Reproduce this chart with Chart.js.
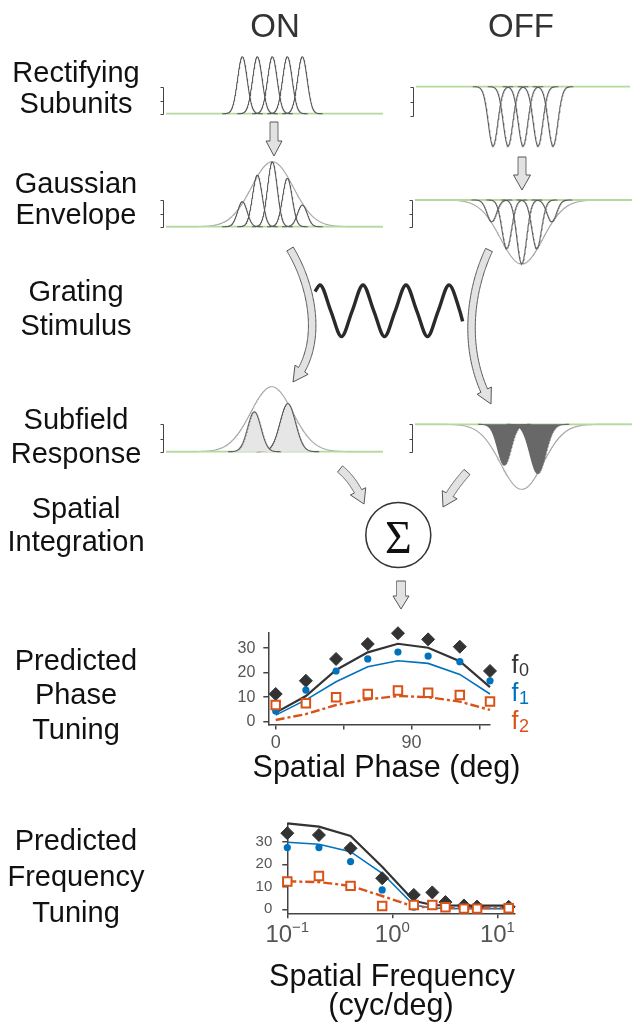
<!DOCTYPE html>
<html>
<head>
<meta charset="utf-8">
<title>Subunit model of simple-cell tuning</title>
<script src="https://cdn.jsdelivr.net/npm/chart.js@4.4.1/dist/chart.umd.min.js"></script>
<style>
  html, body { margin:0; padding:0; background:#fff; overflow:hidden; }
  #fig { position:relative; width:632px; height:1026px; }
  #fig canvas { position:absolute; }
  #overlay { position:absolute; left:0; top:0; }
</style>
</head>
<body>
<div id="fig">
  <svg id="overlay" width="632" height="1026" xmlns="http://www.w3.org/2000/svg"></svg>
</div>
<script>
// ---------- receptive-field model (x measured in subunit spacings) ----------
const subunitCenters = [-2, -1, 0, 1, 2];
const subunitWidth = 0.32;
const subunitReach = 1.35;          // half-extent over which each subunit is drawn
const subunitPeaks = [1, 1, 1, 1, 1];
const envelopeWidth = 1.4;
const onWeightedPeaks = [0.385, 0.795, 1, 0.745, 0.334];
const offWeightedPeaks = [0.34, 0.76, 1, 0.76, 0.34];
const responseCenters = [-1.16, 1.07];
const responseWidths = [0.44, 0.52];
const onResponsePeaks = [0.615, 0.74];
const offResponsePeaks = [0.626, 0.754];

// ---------- grating luminance at marked phases (deg) ----------
const gratingPhase = [-42, 0, 90, 180, 270, 360, 450, 540, 630, 720, 810, 900, 990, 1080, 1170, 1194];
const gratingLevel = [0.75, 1, 0, -1, 0, 1, 0, -1, 0, 1, 0, -1, 0, 1, 0, -0.41];

// ---------- predicted phase tuning ----------
const phaseDeg   = [0, 20, 40, 61, 81, 101, 122, 142];
const phaseF0    = [11.3, 16.7, 25.6, 31.7, 36.1, 33.6, 30.6, 20.7];
const phaseF0Fit = [3.7, 10.5, 21.1, 28.3, 31.8, 30.2, 24.7, 14.1];
const phaseF1    = [4.4, 12.9, 20.7, 25.6, 28.4, 26.8, 24.5, 16.7];
const phaseF1Fit = [2.7, 8.9, 16.3, 22.4, 24.9, 23.8, 19.3, 11.3];
const phaseF2    = [6.8, 7.5, 10.0, 11.3, 12.7, 11.8, 10.9, 8.2];
const phaseF2Fit = [0.7, 3.1, 6.8, 9.1, 10.5, 10.0, 8.2, 4.8];
const phaseTicks = [0, 45, 90, 135];
const phaseTickLabels = ['0', '', '90', ''];

// ---------- predicted frequency tuning ----------
const freqCyc    = [0.1, 0.2, 0.4, 0.8, 1.6, 2.4, 3.2, 4.8, 6.4, 12.8];
const freqF0     = [33.8, 33.0, 27.1, 13.8, 6.4, 7.5, 3.2, 1.7, 1.2, 1.1];
const freqF0Fit  = [38.2, 36.7, 32.6, 18.9, 3.8, 1.9, 1.7, 1.6, 1.6, 1.6];
const freqF1     = [27.4, 27.4, 21.2, 8.6, 0.9, 1.5, 1.2, 0.3, 0.3, 0.3];
const freqF1Fit  = [29.8, 28.9, 25.6, 16.0, 1.9, 0.6, 0.4, 0.3, 0.3, 0.3];
const freqF2     = [12.3, 14.8, 10.4, 1.5, 1.9, 1.9, 0.9, 0.3, 0.3, 0.5];
const freqF2Fit  = [12.4, 12.1, 10.4, 5.9, 1.2, 0.8, 0.6, 0.5, 0.5, 0.5];
const freqTicks = [0.1, 1, 10];
const freqTickExponents = ['\u22121', '0', '1'];
const countTicks = [0, 10, 20, 30];
const harmonicLabels = ['0', '1', '2'];

// ---------- styling ----------
const FONT = "'Liberation Sans', Arial, Helvetica, sans-serif";
const C0 = '#333333', C1 = '#0072BD', C2 = '#D95319';
const SUB_COLOR = '#5c5c5c', ENV_COLOR = '#ababab', BASE_COLOR = '#b5d99c';
const AXIS_COLOR = '#444444', TICK_TEXT = '#555555';
const SPACING = 15; // pixels per subunit spacing

const fig = document.getElementById('fig');
const overlay = document.getElementById('overlay');

function addCanvas(left, top, w, h) {
  const c = document.createElement('canvas');
  c.width = w; c.height = h;
  c.style.left = left + 'px'; c.style.top = top + 'px';
  c.style.width = w + 'px'; c.style.height = h + 'px';
  fig.insertBefore(c, overlay);
  return c;
}
const gauss = (x, c, s) => Math.exp(-0.5 * ((x - c) / s) ** 2);
const pairs = (xs, ys) => xs.map((x, i) => ({ x, y: ys[i] }));

// small y-scale bracket to the left of each receptive-field panel
const bracketPlugin = {
  id: 'bracket',
  afterDraw(chart, args, o) {
    if (o.to === undefined) return;
    const ys = chart.scales.y, ctx = chart.ctx;
    const x = Math.round(chart.chartArea.left - 3) + 0.5;
    const y0 = Math.round(ys.getPixelForValue(0)) + 0.5;
    const y1 = Math.round(ys.getPixelForValue(o.to)) + 0.5;
    const ym = Math.round((y0 + y1) / 2) + 0.5;
    ctx.save();
    ctx.strokeStyle = AXIS_COLOR; ctx.lineWidth = 1;
    ctx.beginPath();
    ctx.moveTo(x, y0); ctx.lineTo(x, y1);
    [y0, ym, y1].forEach(yy => { ctx.moveTo(x - 3, yy); ctx.lineTo(x, yy); });
    ctx.stroke();
    ctx.restore();
  }
};

// one receptive-field panel: g gives pixel geometry, each curve is a function of x over an optional span
function rfPanel(g, curves, bracketTo) {
  const padL = 12, padR = 2;
  const cv = addCanvas(g.left - padL, g.top, g.right - g.left + padL + padR, g.bottom - g.top);
  const xmin = (g.left - g.x0) / SPACING, xmax = (g.right - g.x0) / SPACING;
  const ymax = (g.y0 - g.top) / g.unit, ymin = (g.y0 - g.bottom) / g.unit;
  const sample = (fn, span) => {
    const a = span ? Math.max(xmin, span[0]) : xmin, b = span ? Math.min(xmax, span[1]) : xmax;
    const n = Math.max(2, Math.round((b - a) * SPACING * 2));
    const pts = [];
    for (let i = 0; i <= n; i++) { const x = a + (b - a) * i / n; pts.push({ x, y: fn(x) }); }
    return pts;
  };
  const datasets = [{
    data: [{ x: xmin, y: 0 }, { x: xmax, y: 0 }],
    borderColor: BASE_COLOR, borderWidth: 1.8, pointRadius: 0, order: 20
  }];
  curves.forEach(c => datasets.push(Object.assign({
    data: sample(c.fn, c.span), pointRadius: 0, borderWidth: 1.1, fill: false
  }, c.style)));
  return new Chart(cv, {
    type: 'line',
    data: { datasets },
    options: {
      responsive: false, animation: false, events: [], devicePixelRatio: 1,
      layout: { autoPadding: false, padding: { left: padL, right: padR, top: 0, bottom: 0 } },
      scales: {
        x: { type: 'linear', min: xmin, max: xmax, display: false },
        y: { type: 'linear', min: ymin, max: ymax, display: false }
      },
      plugins: { legend: { display: false }, tooltip: { enabled: false }, bracket: { to: bracketTo } }
    },
    plugins: [bracketPlugin]
  });
}

const subStyle = { borderColor: SUB_COLOR, order: 2 };
const envStyle = { borderColor: ENV_COLOR, order: 30 };
const subSpan = c => [c - subunitReach, c + subunitReach];
const respSpan = i => [responseCenters[i] - 4 * responseWidths[i], responseCenters[i] + 4 * responseWidths[i]];

// Rectifying subunits
rfPanel({ left: 166, right: 383, x0: 272.3, top: 48, bottom: 120, y0: 113.7, unit: 57 },
  subunitCenters.map((c, i) => ({ fn: x => subunitPeaks[i] * gauss(x, c, subunitWidth), span: subSpan(c), style: subStyle })),
  27 / 57);
rfPanel({ left: 416, right: 630, x0: 523, top: 80, bottom: 152, y0: 86.7, unit: 59.3 },
  subunitCenters.map((c, i) => ({ fn: x => -subunitPeaks[i] * gauss(x, c, subunitWidth), span: subSpan(c), style: subStyle })),
  -29 / 59.3);

// Gaussian envelope
rfPanel({ left: 166, right: 383, x0: 272.3, top: 154, bottom: 232, y0: 226.7, unit: 65 },
  [{ fn: x => gauss(x, 0, envelopeWidth), style: envStyle }].concat(
    subunitCenters.map((c, i) => ({ fn: x => onWeightedPeaks[i] * gauss(x, c, subunitWidth), span: subSpan(c), style: subStyle }))),
  27 / 65);
rfPanel({ left: 415, right: 632, x0: 521.7, top: 193, bottom: 270, y0: 200, unit: 64 },
  [{ fn: x => -gauss(x, 0, envelopeWidth), style: envStyle }].concat(
    subunitCenters.map((c, i) => ({ fn: x => -offWeightedPeaks[i] * gauss(x, c, subunitWidth), span: subSpan(c), style: subStyle }))),
  -27 / 64);

// Subfield response
rfPanel({ left: 166, right: 383, x0: 271.7, top: 380, bottom: 458, y0: 451.7, unit: 65 },
  [{ fn: x => gauss(x, 0, envelopeWidth), style: envStyle }].concat(
    responseCenters.map((c, i) => ({
      fn: x => onResponsePeaks[i] * gauss(x, c, responseWidths[i]), span: respSpan(i),
      style: { borderColor: SUB_COLOR, backgroundColor: '#e6e6e6', fill: 'origin', order: 2 }
    }))),
  27.7 / 65);
rfPanel({ left: 415, right: 632, x0: 521.7, top: 418, bottom: 496, y0: 424.3, unit: 65 },
  [{ fn: x => -gauss(x, 0, envelopeWidth), style: envStyle }].concat(
    responseCenters.map((c, i) => ({
      fn: x => -offResponsePeaks[i] * gauss(x, c, responseWidths[i]), span: respSpan(i),
      style: { borderColor: '#686868', backgroundColor: '#686868', fill: 'origin', order: 2 }
    }))),
  -27.4 / 65);

// ---------- grating stimulus ----------
(function () {
  const left = 310, top = 278, w = 160, h = 66;
  const cv = addCanvas(left, top, w, h);
  const pxPerDeg = 43 / 360, peakX = 320, midY = 310.8, amp = 25.8;
  new Chart(cv, {
    type: 'line',
    data: { datasets: [{
      data: pairs(gratingPhase, gratingLevel), borderColor: '#2a2a2a', borderWidth: 3.4,
      pointRadius: 0, cubicInterpolationMode: 'monotone'
    }] },
    options: {
      responsive: false, animation: false, events: [], devicePixelRatio: 1,
      layout: { autoPadding: false, padding: 0 },
      scales: {
        x: { type: 'linear', display: false, min: (left - peakX) / pxPerDeg, max: (left + w - peakX) / pxPerDeg },
        y: { type: 'linear', display: false, min: (midY - top - h) / amp, max: (midY - top) / amp }
      },
      plugins: { legend: { display: false }, tooltip: { enabled: false } }
    }
  });
})();

// ---------- tuning charts ----------
function tuningSets(xs, f0, f0fit, f1, f1fit, f2, f2fit) {
  return [
    { data: pairs(xs, f0fit), borderColor: C0, borderWidth: 2.2, pointRadius: 0, order: 6, clip: false },
    { data: pairs(xs, f1fit), borderColor: C1, borderWidth: 1.6, pointRadius: 0, order: 5, clip: false },
    { data: pairs(xs, f2fit), borderColor: C2, borderWidth: 2.4, borderDash: [9, 3, 3, 3], pointRadius: 0, order: 4, clip: false },
    { data: pairs(xs, f0), showLine: false, pointStyle: 'rectRot', pointRadius: 6.5,
      pointBackgroundColor: C0, pointBorderColor: C0, pointBorderWidth: 1, order: 3, clip: false },
    { data: pairs(xs, f1), showLine: false, pointStyle: 'circle', pointRadius: 3.6,
      pointBackgroundColor: C1, pointBorderColor: C1, pointBorderWidth: 0, order: 2, clip: false },
    { data: pairs(xs, f2), showLine: false, pointStyle: 'rect', pointRadius: 6,
      pointBackgroundColor: '#ffffff', pointBorderColor: C2, pointBorderWidth: 2, order: 1, clip: false }
  ];
}
const axisLines = {
  grid: { drawOnChartArea: false, drawTicks: true, tickLength: 5, color: AXIS_COLOR, lineWidth: 1.5 },
  border: { display: true, color: AXIS_COLOR, width: 1.5 }
};
// fix an axis box size and drop the label overhang padding so the plot area lands where intended
const fixHeight = h => s => { s.height = h; s.paddingLeft = 0; s.paddingRight = 0; };
const fixWidth = w => s => { s.width = w; s.paddingTop = 0; s.paddingBottom = 0; };

// harmonic legend next to the phase plot
const harmonicLegend = {
  id: 'harmonicLegend',
  afterDraw(chart, args, o) {
    const ctx = chart.ctx;
    ctx.save();
    ctx.textBaseline = 'alphabetic';
    o.items.forEach(it => {
      ctx.fillStyle = it.color;
      ctx.font = `25px ${FONT}`;
      ctx.fillText('f', it.x, it.y);
      const fw = ctx.measureText('f').width;
      ctx.font = `18px ${FONT}`;
      ctx.fillText(it.sub, it.x + fw + 0.5, it.y + 3);
    });
    ctx.restore();
  }
};

(function () {
  const L = 215, T = 625, W = 325, H = 125;
  const cv = addCanvas(L, T, W, H);
  new Chart(cv, {
    type: 'line',
    data: { datasets: tuningSets(phaseDeg, phaseF0, phaseF0Fit, phaseF1, phaseF1Fit, phaseF2, phaseF2Fit) },
    options: {
      responsive: false, animation: false, events: [], devicePixelRatio: 1,
      layout: { autoPadding: false, padding: { left: 0, right: 50, top: 8, bottom: 0 } },
      scales: {
        x: Object.assign({
          type: 'linear', min: -4.9, max: 142,
          afterBuildTicks: s => { s.ticks = phaseTicks.map(v => ({ value: v })); },
          afterFit: fixHeight(25.5),
          ticks: { autoSkip: false, maxRotation: 0, padding: 3, color: TICK_TEXT, font: { family: FONT, size: 18 },
                   callback: v => phaseTickLabels[phaseTicks.indexOf(v)] }
        }, axisLines),
        y: Object.assign({
          type: 'linear', min: -1.14, max: 36.2,
          afterBuildTicks: s => { s.ticks = countTicks.map(v => ({ value: v })); },
          afterFit: fixWidth(53.3),
          ticks: { padding: 8, color: TICK_TEXT, font: { family: FONT, size: 16 } }
        }, axisLines)
      },
      plugins: {
        legend: { display: false }, tooltip: { enabled: false },
        harmonicLegend: { items: [
          { sub: harmonicLabels[0], color: C0, x: 511.5 - L, y: 673 - T },
          { sub: harmonicLabels[1], color: C1, x: 511.5 - L, y: 701 - T },
          { sub: harmonicLabels[2], color: C2, x: 511.5 - L, y: 729 - T }
        ] }
      }
    },
    plugins: [harmonicLegend]
  });
})();

// powers-of-ten labels for the log axis
const powerLabels = {
  id: 'powerLabels',
  afterDraw(chart, args, o) {
    const s = chart.scales.x, ctx = chart.ctx;
    const base = chart.chartArea.bottom;
    ctx.save();
    ctx.fillStyle = TICK_TEXT;
    ctx.textBaseline = 'alphabetic';
    o.values.forEach((v, i) => {
      const px = s.getPixelForValue(v);
      ctx.font = `24px ${FONT}`;
      const w1 = ctx.measureText('10').width;
      ctx.font = `15px ${FONT}`;
      const w2 = ctx.measureText(o.exponents[i]).width;
      const x = px - (w1 + w2) / 2;
      ctx.font = `24px ${FONT}`;
      ctx.fillText('10', x, base + 28.4);
      ctx.font = `15px ${FONT}`;
      ctx.fillText(o.exponents[i], x + w1, base + 18.4);
    });
    ctx.restore();
  }
};

(function () {
  const L = 235, T = 815, W = 300, H = 130;
  const cv = addCanvas(L, T, W, H);
  new Chart(cv, {
    type: 'line',
    data: { datasets: tuningSets(freqCyc, freqF0, freqF0Fit, freqF1, freqF1Fit, freqF2, freqF2Fit) },
    options: {
      responsive: false, animation: false, events: [], devicePixelRatio: 1,
      layout: { autoPadding: false, padding: { left: 0, right: 20, top: 8.3, bottom: 0 } },
      scales: {
        x: Object.assign({
          type: 'logarithmic', min: 0.1, max: 14.7,
          afterBuildTicks: s => { s.ticks = freqTicks.map(v => ({ value: v })); },
          afterFit: fixHeight(31.7),
          ticks: { autoSkip: false, maxRotation: 0, callback: () => '' }
        }, axisLines),
        y: Object.assign({
          type: 'linear', min: -1.78, max: 38.2,
          afterBuildTicks: s => { s.ticks = countTicks.map(v => ({ value: v })); },
          afterFit: fixWidth(52.3),
          ticks: { padding: 10, color: TICK_TEXT, font: { family: FONT, size: 15 } }
        }, axisLines)
      },
      plugins: {
        legend: { display: false }, tooltip: { enabled: false },
        powerLabels: { values: freqTicks, exponents: freqTickExponents }
      }
    },
    plugins: [powerLabels]
  });
})();

// ---------- overlay: labels, arrows, summation node ----------
const NS = 'http://www.w3.org/2000/svg';
function svgEl(tag, attrs, text) {
  const e = document.createElementNS(NS, tag);
  for (const k in attrs) e.setAttribute(k, attrs[k]);
  if (text !== undefined) e.textContent = text;
  overlay.appendChild(e);
  return e;
}
function label(text, x, y, size, color, family) {
  svgEl('text', { x, y, 'text-anchor': 'middle', 'font-family': family || FONT, 'font-size': size, fill: color || '#111' }, text);
}

label('ON', 275, 37.3, 33, '#333');
label('OFF', 521, 37.3, 33, '#333');

const rowLabels = [
  ['Rectifying', 82], ['Subunits', 113],
  ['Gaussian', 193], ['Envelope', 224],
  ['Grating', 301], ['Stimulus', 335],
  ['Subfield', 429], ['Response', 463],
  ['Spatial', 518], ['Integration', 551],
  ['Predicted', 670], ['Phase', 704], ['Tuning', 739],
  ['Predicted', 850], ['Frequency', 886], ['Tuning', 922]
];
rowLabels.forEach(([t, y]) => label(t, 76, y, 29));

label('Spatial Phase (deg)', 386.5, 777, 30.5);
label('Spatial Frequency', 392, 986, 30.5);
label('(cyc/deg)', 391, 1015, 30.5);

// block arrows following cubic centre-lines
function bez(p, t) {
  const u = 1 - t;
  return [0, 1].map(k => u * u * u * p[0][k] + 3 * u * u * t * p[1][k] + 3 * u * t * t * p[2][k] + t * t * t * p[3][k]);
}
function blockArrow(p, shaftW, headW, headL) {
  const N = 120, pts = [];
  for (let i = 0; i <= N; i++) pts.push(bez(p, i / N));
  const len = [0];
  for (let i = 1; i <= N; i++) len.push(len[i - 1] + Math.hypot(pts[i][0] - pts[i - 1][0], pts[i][1] - pts[i - 1][1]));
  const baseLen = len[N] - headL;
  const left = [], right = [];
  let j = 0;
  for (; j <= N && len[j] < baseLen; j++) {
    const a = pts[Math.max(0, j - 1)], b = pts[Math.min(N, j + 1)];
    const d = Math.hypot(b[0] - a[0], b[1] - a[1]);
    const nx = -(b[1] - a[1]) / d, ny = (b[0] - a[0]) / d;
    left.push([pts[j][0] + nx * shaftW / 2, pts[j][1] + ny * shaftW / 2]);
    right.push([pts[j][0] - nx * shaftW / 2, pts[j][1] - ny * shaftW / 2]);
  }
  const f = (baseLen - len[j - 1]) / (len[j] - len[j - 1]);
  const base = [pts[j - 1][0] + f * (pts[j][0] - pts[j - 1][0]), pts[j - 1][1] + f * (pts[j][1] - pts[j - 1][1])];
  const tip = pts[N];
  const dl = Math.hypot(tip[0] - base[0], tip[1] - base[1]);
  const nx = -(tip[1] - base[1]) / dl, ny = (tip[0] - base[0]) / dl;
  left.push([base[0] + nx * shaftW / 2, base[1] + ny * shaftW / 2]);
  right.push([base[0] - nx * shaftW / 2, base[1] - ny * shaftW / 2]);
  const poly = left.concat([[base[0] + nx * headW / 2, base[1] + ny * headW / 2], tip,
                            [base[0] - nx * headW / 2, base[1] - ny * headW / 2]], right.reverse());
  const d = 'M' + poly.map(q => q[0].toFixed(2) + ' ' + q[1].toFixed(2)).join(' L') + ' Z';
  svgEl('path', { d, fill: '#e2e2e2', stroke: '#555', 'stroke-width': 1, 'stroke-linejoin': 'miter' });
}
blockArrow([[274, 122], [274, 133], [274, 145], [274, 156]], 8, 16, 15);
blockArrow([[522, 157], [522, 168], [522, 179], [522, 190]], 8, 17, 15);
blockArrow([[290, 249], [312, 285], [325, 345], [293, 382]], 7.5, 16, 15);
blockArrow([[489, 250], [470, 290], [461, 352], [491, 404]], 7.5, 16, 15);
blockArrow([[340, 469], [350, 477], [358, 489], [364, 504]], 8, 17, 14);
blockArrow([[467, 472], [460, 480], [450, 492], [443, 507]], 8, 17, 14);
blockArrow([[401, 581], [401, 590], [401, 600], [401, 609]], 9, 16, 13);

svgEl('circle', { cx: 398.3, cy: 535, r: 32.5, fill: '#fff', stroke: '#333', 'stroke-width': 1.5 });
label('\u03A3', 398.3, 553, 46, '#111', "'Liberation Serif', 'Times New Roman', serif");
</script>
</body>
</html>
